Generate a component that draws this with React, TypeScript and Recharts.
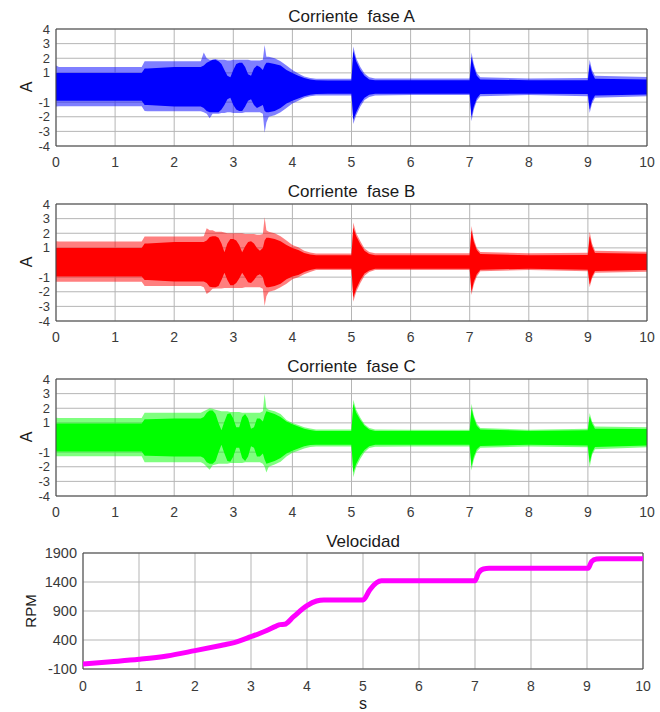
import React from 'react';
import { ComposedChart, Area, Line, XAxis, YAxis, CartesianGrid, ReferenceArea } from 'recharts';

// Shared time grid (s) for the three phase currents (envelope samples)
const TIME = [
  0, 0.05, 0.5, 1.0, 1.45,
  1.5, 1.55, 2.0, 2.45, 2.5,
  2.55, 2.6, 2.65, 2.7, 2.75,
  2.8, 2.85, 2.9, 2.95, 3.0,
  3.05, 3.1, 3.15, 3.2, 3.25,
  3.3, 3.35, 3.4, 3.45, 3.5,
  3.53, 3.56, 3.6, 3.7, 3.8,
  3.9, 4.0, 4.1, 4.2, 4.3,
  4.4, 4.6, 5.0, 5.03, 5.08,
  5.15, 5.22, 5.3, 5.4, 6.0,
  7.0, 7.03, 7.07, 7.12, 7.18,
  8.0, 9.0, 9.03, 9.07, 9.12,
  10.0,
];

// Phase A envelopes (A)
const A_OUTER_HI = [
  1.5, 1.4, 1.4, 1.4, 1.4,
  1.8, 1.8, 1.8, 1.8, 2.4,
  2.0, 1.9, 1.9, 1.95, 1.9,
  1.9, 1.9, 1.85, 1.85, 1.9,
  1.9, 1.9, 1.9, 1.9, 1.9,
  1.85, 1.85, 1.85, 1.85, 1.9,
  2.9, 2.1, 2.1, 2.0, 1.8,
  1.5, 1.2, 0.95, 0.75, 0.65,
  0.6, 0.6, 0.6, 2.8, 2.0,
  1.4, 0.95, 0.7, 0.62, 0.62,
  0.62, 2.4, 1.6, 1.0, 0.7,
  0.62, 0.65, 1.9, 1.2, 0.8,
  0.72,
];
const A_OUTER_LO = [
  -1.3, -1.28, -1.28, -1.28, -1.28,
  -1.6, -1.62, -1.62, -1.62, -1.7,
  -1.8, -2.1, -1.8, -1.8, -1.8,
  -1.75, -1.75, -1.7, -1.7, -1.75,
  -1.75, -1.75, -1.75, -1.7, -1.7,
  -1.7, -1.7, -1.7, -1.7, -1.8,
  -3.1, -2.4, -2.0, -1.9, -1.7,
  -1.4, -1.1, -0.9, -0.7, -0.6,
  -0.55, -0.55, -0.55, -2.5, -1.9,
  -1.3, -0.85, -0.65, -0.55, -0.52,
  -0.52, -2.3, -1.5, -0.9, -0.6,
  -0.52, -0.6, -1.75, -1.1, -0.7,
  -0.6,
];
const A_DENSE_HI = [
  1.0, 1.0, 1.0, 1.0, 1.0,
  1.3, 1.3, 1.4, 1.4, 1.5,
  1.7, 1.8, 1.9, 1.9, 1.8,
  1.6, 1.2, 0.8, 0.7, 1.2,
  1.6, 1.7, 1.7, 1.4, 0.9,
  0.8, 1.3, 1.5, 1.4, 1.2,
  1.5, 1.7, 1.7, 1.6, 1.5,
  1.2, 1.0, 0.8, 0.65, 0.55,
  0.5, 0.48, 0.48, 2.5, 1.8,
  1.2, 0.8, 0.55, 0.5, 0.5,
  0.5, 2.1, 1.4, 0.8, 0.55,
  0.5, 0.5, 1.6, 1.0, 0.6,
  0.55,
];
const A_DENSE_LO = [
  -0.9, -0.9, -0.9, -0.9, -0.9,
  -1.2, -1.2, -1.3, -1.3, -1.4,
  -1.6, -1.7, -1.7, -1.7, -1.7,
  -1.5, -1.2, -0.8, -0.7, -1.2,
  -1.5, -1.6, -1.6, -1.3, -0.9,
  -0.8, -1.2, -1.4, -1.3, -1.2,
  -1.6, -1.7, -1.7, -1.6, -1.4,
  -1.1, -0.9, -0.75, -0.6, -0.5,
  -0.45, -0.42, -0.42, -2.2, -1.7,
  -1.1, -0.7, -0.5, -0.42, -0.42,
  -0.42, -2.0, -1.3, -0.75, -0.45,
  -0.42, -0.45, -1.5, -0.9, -0.55,
  -0.48,
];

// Phase B envelopes (A)
const B_OUTER_HI = [
  1.45, 1.43, 1.43, 1.43, 1.43,
  1.77, 1.77, 1.77, 1.77, 1.8,
  2.34, 2.2, 2.2, 2.1, 2.1,
  2.1, 2.05, 2.0, 2.0, 2.0,
  2.0, 2.0, 2.0, 1.95, 1.95,
  1.95, 1.95, 1.9, 1.9, 1.95,
  3.1, 2.2, 2.1, 2.0, 1.8,
  1.5, 1.2, 1.05, 0.8, 0.68,
  0.62, 0.62, 0.62, 2.73, 2.0,
  1.45, 0.95, 0.72, 0.63, 0.63,
  0.63, 2.5, 1.6, 1.0, 0.72,
  0.63, 0.66, 2.1, 1.3, 0.8,
  0.74,
];
const B_OUTER_LO = [
  -1.31, -1.31, -1.31, -1.31, -1.31,
  -1.61, -1.61, -1.61, -1.61, -1.7,
  -2.16, -2.0, -1.8, -1.77, -1.77,
  -1.77, -1.75, -1.75, -1.75, -1.75,
  -1.75, -1.75, -1.75, -1.7, -1.7,
  -1.7, -1.7, -1.7, -1.7, -1.8,
  -2.98, -2.3, -2.0, -1.9, -1.7,
  -1.45, -1.15, -1.0, -0.8, -0.65,
  -0.52, -0.52, -0.52, -2.68, -2.0,
  -1.4, -0.9, -0.65, -0.52, -0.51,
  -0.51, -2.23, -1.5, -0.95, -0.6,
  -0.51, -0.6, -1.7, -1.1, -0.7,
  -0.63,
];
const B_DENSE_HI = [
  1.0, 1.0, 1.0, 1.0, 1.0,
  1.3, 1.3, 1.4, 1.4, 1.4,
  1.5, 1.75, 1.8, 1.8, 1.7,
  1.3, 0.7, 1.3, 1.6, 1.6,
  1.5, 1.2, 0.7, 1.1, 1.4,
  1.45, 1.3, 1.0, 0.8, 1.0,
  1.5, 1.7, 1.7, 1.6, 1.45,
  1.2, 1.0, 0.85, 0.65, 0.55,
  0.5, 0.5, 0.5, 2.4, 1.8,
  1.25, 0.8, 0.58, 0.5, 0.5,
  0.5, 2.2, 1.4, 0.85, 0.58,
  0.5, 0.52, 1.8, 1.1, 0.65,
  0.6,
];
const B_DENSE_LO = [
  -0.95, -0.95, -0.95, -0.95, -0.95,
  -1.2, -1.2, -1.3, -1.3, -1.3,
  -1.4, -1.65, -1.7, -1.7, -1.6,
  -1.2, -0.7, -1.2, -1.55, -1.55,
  -1.4, -1.1, -0.7, -1.0, -1.35,
  -1.4, -1.2, -0.9, -0.8, -1.0,
  -1.5, -1.7, -1.7, -1.6, -1.45,
  -1.15, -0.95, -0.85, -0.65, -0.52,
  -0.42, -0.42, -0.42, -2.4, -1.8,
  -1.2, -0.75, -0.55, -0.42, -0.42,
  -0.42, -2.0, -1.3, -0.8, -0.5,
  -0.42, -0.5, -1.5, -0.95, -0.58,
  -0.52,
];

// Phase C envelopes (A)
const C_OUTER_HI = [
  1.35, 1.33, 1.33, 1.33, 1.33,
  1.7, 1.7, 1.7, 1.7, 1.8,
  1.9, 2.0, 1.96, 1.9, 1.85,
  1.8, 1.8, 1.8, 1.75, 1.75,
  1.75, 1.75, 1.7, 1.7, 1.7,
  1.7, 1.7, 1.7, 1.7, 1.8,
  3.0, 2.0, 1.9, 1.8, 1.6,
  1.2, 1.0, 0.85, 0.7, 0.62,
  0.55, 0.55, 0.55, 2.58, 1.9,
  1.35, 0.9, 0.65, 0.55, 0.53,
  0.53, 2.3, 1.5, 0.95, 0.65,
  0.53, 0.6, 1.67, 1.1, 0.75,
  0.7,
];
const C_OUTER_LO = [
  -1.29, -1.29, -1.29, -1.29, -1.29,
  -1.7, -1.7, -1.7, -1.7, -1.8,
  -2.0, -2.2, -1.9, -1.85, -1.8,
  -1.8, -1.8, -1.8, -1.75, -1.75,
  -1.75, -1.75, -1.75, -1.7, -1.7,
  -1.7, -1.7, -1.7, -1.7, -1.8,
  -2.0, -2.4, -2.0, -1.85, -1.65,
  -1.3, -1.05, -0.9, -0.75, -0.65,
  -0.62, -0.62, -0.62, -2.72, -2.0,
  -1.45, -1.0, -0.72, -0.63, -0.62,
  -0.62, -2.26, -1.5, -0.95, -0.7,
  -0.62, -0.66, -2.03, -1.2, -0.8,
  -0.66,
];
const C_DENSE_HI = [
  0.95, 0.95, 0.95, 0.95, 0.95,
  1.25, 1.25, 1.3, 1.3, 1.4,
  1.7, 1.85, 1.85, 1.6, 1.0,
  0.5, 1.1, 1.6, 1.65, 1.3,
  0.7, 0.7, 1.4, 1.6, 1.3,
  0.6, 0.7, 1.3, 1.3, 1.1,
  1.5, 1.8, 1.75, 1.6, 1.4,
  1.1, 0.9, 0.75, 0.6, 0.52,
  0.45, 0.45, 0.45, 2.3, 1.7,
  1.2, 0.8, 0.55, 0.45, 0.45,
  0.45, 2.0, 1.35, 0.8, 0.55,
  0.45, 0.5, 1.45, 0.95, 0.6,
  0.58,
];
const C_DENSE_LO = [
  -0.95, -0.95, -0.95, -0.95, -0.95,
  -1.25, -1.25, -1.3, -1.3, -1.4,
  -1.7, -1.8, -1.8, -1.6, -1.0,
  -0.5, -1.1, -1.6, -1.65, -1.3,
  -0.7, -0.7, -1.4, -1.6, -1.3,
  -0.6, -0.7, -1.3, -1.3, -1.1,
  -1.5, -1.8, -1.75, -1.6, -1.4,
  -1.1, -0.9, -0.75, -0.6, -0.52,
  -0.5, -0.5, -0.5, -2.4, -1.8,
  -1.25, -0.85, -0.6, -0.5, -0.5,
  -0.5, -2.0, -1.3, -0.8, -0.58,
  -0.5, -0.55, -1.75, -1.05, -0.65,
  -0.55,
];

// Speed
const SPEED_TIME = [0, 0.5, 1, 1.5, 2, 2.5, 2.7, 3, 3.27, 3.45, 3.52, 3.6, 3.76, 4.0, 4.17, 4.3, 5.0, 5.12, 5.24, 5.33, 5.45, 7.0, 7.06, 7.15, 7.25, 9.02, 9.08, 9.17, 9.25, 10];
const SPEED_RPM = [-14, 25, 67, 124, 216, 314, 354, 457, 560, 640, 665, 670, 802, 991, 1072, 1090, 1090, 1262, 1388, 1422, 1420, 1420, 1550, 1624, 1636, 1636, 1750, 1796, 1800, 1800];

const X_TICKS = [0, 1, 2, 3, 4, 5, 6, 7, 8, 9, 10];
const CURRENT_TICKS = [-4, -3, -2, -1, 0, 1, 2, 3, 4];
const SPEED_TICKS = [-100, 400, 900, 1400, 1900];

const TITLES = ['Corriente  fase A', 'Corriente  fase B', 'Corriente  fase C', 'Velocidad'];

const FONT = '"Liberation Sans", Arial, Helvetica, sans-serif';
const TICK_STYLE = { fill: '#3a3a3a', fontSize: 14, fontFamily: FONT };
const GRID = '#b5b5b5';

function Title({ x, y, text }: { x: number; y: number; text: string }) {
  return (
    <div style={{ position: 'absolute', left: x, top: y, transform: 'translate(-50%, -50%)', fontFamily: FONT, fontSize: 17, color: '#1a1a1a', whiteSpace: 'pre', lineHeight: 1 }}>
      {text}
    </div>
  );
}

function VLabel({ x, y, text, size }: { x: number; y: number; text: string; size: number }) {
  return (
    <div style={{ position: 'absolute', left: x, top: y, transform: 'translate(-50%, -50%) rotate(-90deg)', fontFamily: FONT, fontSize: size, color: '#1a1a1a', whiteSpace: 'pre', lineHeight: 1 }}>
      {text}
    </div>
  );
}

function CurrentPanel({ plotTop, title, color, hi, lo, dHi, dLo }: any) {
  const rows = TIME.map((t, i) => ({ t, outer: [lo[i], hi[i]], dense: [dLo[i], dHi[i]] }));
  const mTop = 10;
  const plotH = 117;
  const axisH = 30;
  const H = mTop + plotH + axisH;
  return (
    <>
      <div style={{ position: 'absolute', left: 0, top: plotTop - mTop, width: 660, height: H }}>
        <ComposedChart width={660} height={H} data={rows} margin={{ top: mTop, right: 13, bottom: 0, left: 26 }}>
          <CartesianGrid stroke={GRID} />
          <XAxis dataKey="t" type="number" domain={[0, 10]} ticks={X_TICKS} interval={0} tickSize={0} tickMargin={11} height={axisH} axisLine={false} tick={TICK_STYLE} allowDataOverflow />
          <YAxis type="number" domain={[-4, 4]} ticks={CURRENT_TICKS} interval={0} tickFormatter={(v: number) => (v === 0 ? '' : String(v))} width={30} tickSize={0} tickMargin={6} axisLine={false} tick={{ ...TICK_STYLE, fontSize: 13 }} allowDataOverflow />
          <Area dataKey="outer" type="linear" stroke="none" fill={color} fillOpacity={0.5} isAnimationActive={false} />
          <Area dataKey="dense" type="linear" stroke="none" fill={color} fillOpacity={1} isAnimationActive={false} />
          <ReferenceArea x1={0} x2={10} y1={-4} y2={4} fill="none" stroke="#444" strokeWidth={1} ifOverflow="visible" />
        </ComposedChart>
      </div>
      <Title x={351.5} y={plotTop - 13} text={title} />
      <VLabel x={27} y={plotTop + 58} text="A" size={16} />
    </>
  );
}

function SpeedPanel({ plotTop }: { plotTop: number }) {
  const rows = SPEED_TIME.map((t, i) => ({ t, rpm: SPEED_RPM[i] }));
  const mTop = 10;
  const plotH = 116;
  const axisH = 30;
  const H = mTop + plotH + axisH;
  return (
    <>
      <div style={{ position: 'absolute', left: 0, top: plotTop - mTop, width: 660, height: H }}>
        <ComposedChart width={660} height={H} data={rows} margin={{ top: mTop, right: 17, bottom: 0, left: 43 }}>
          <CartesianGrid stroke={GRID} />
          <XAxis dataKey="t" type="number" domain={[0, 10]} ticks={X_TICKS} interval={0} tickSize={0} tickMargin={12} height={axisH} axisLine={false} tick={TICK_STYLE} allowDataOverflow />
          <YAxis type="number" domain={[-100, 1900]} ticks={SPEED_TICKS} interval={0} width={40} tickSize={0} tickMargin={6} axisLine={false} tick={{ ...TICK_STYLE, fontSize: 14.5 }} allowDataOverflow />
          <Line dataKey="rpm" type="monotone" stroke="#ff00ff" strokeWidth={5} dot={false} isAnimationActive={false} />
          <ReferenceArea x1={0} x2={10} y1={-100} y2={1900} fill="none" stroke="#444" strokeWidth={1} ifOverflow="visible" />
        </ComposedChart>
      </div>
      <Title x={363} y={plotTop - 12} text={TITLES[3]} />
      <VLabel x={30} y={plotTop + 58} text="RPM" size={15} />
      <div style={{ position: 'absolute', left: 363, top: 704, transform: 'translate(-50%, -50%)', fontFamily: FONT, fontSize: 16, color: '#1a1a1a', lineHeight: 1 }}>s</div>
    </>
  );
}

export default function App() {
  return (
    <div style={{ position: 'absolute', left: 0, top: 0, width: 660, height: 712, background: '#fff', overflow: 'hidden' }}>
      <CurrentPanel plotTop={29} title={TITLES[0]} color="#0000ff" hi={A_OUTER_HI} lo={A_OUTER_LO} dHi={A_DENSE_HI} dLo={A_DENSE_LO} />
      <CurrentPanel plotTop={204} title={TITLES[1]} color="#ff0000" hi={B_OUTER_HI} lo={B_OUTER_LO} dHi={B_DENSE_HI} dLo={B_DENSE_LO} />
      <CurrentPanel plotTop={379} title={TITLES[2]} color="#00ff00" hi={C_OUTER_HI} lo={C_OUTER_LO} dHi={C_DENSE_HI} dLo={C_DENSE_LO} />
      <SpeedPanel plotTop={553} />
    </div>
  );
}
